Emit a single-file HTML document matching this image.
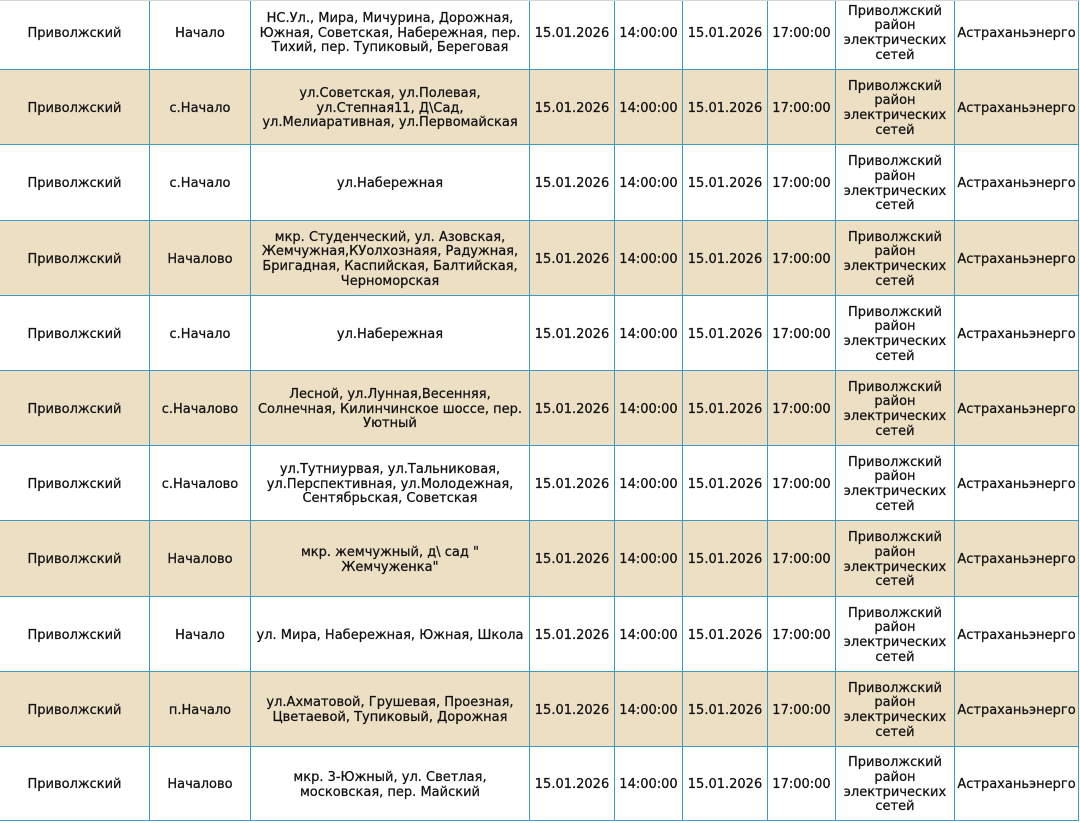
<!DOCTYPE html>
<html>
<head>
<meta charset="utf-8">
<style>
  html, body { margin:0; padding:0; background:#fff; }
  body { width:1080px; height:823px; overflow:hidden; position:relative;
         font-family:"DejaVu Sans","Liberation Sans",sans-serif; font-size:13px; color:#111; }
  .row { position:absolute; left:0; display:flex; box-sizing:border-box; border-bottom:1px solid #3d9cbf; }
  .row.b { background:#ecdfc4; }
  .c { box-sizing:border-box; display:flex; align-items:center; justify-content:center; text-align:center;
       line-height:14.7px; white-space:nowrap; border-left:1px solid #3d9cbf; height:100%; padding-top:4px;
       -webkit-text-stroke:0.25px #111; }
  .c1 { width:149px; border-left:none; }
  .c2 { width:101px; }
  .c3 { width:279px; }
  .c4 { width:85px; }
  .c5 { width:68px; }
  .c6 { width:85px; }
  .c7 { width:68px; }
  .c8 { width:119px; }
  .c9 { width:125px; border-right:1px solid #3d9cbf; }
  .topline { position:absolute; left:0; top:0; width:1080px; height:1px; background:#d4d4d4; }
</style>
</head>
<body>

<div class="row" style="top:-5px;height:75px;">
  <div class="c c1">Приволжский</div>
  <div class="c c2">Начало</div>
  <div class="c c3">НС.Ул., Мира, Мичурина, Дорожная,<br>Южная, Советская, Набережная, пер.<br>Тихий, пер. Тупиковый, Береговая</div>
  <div class="c c4">15.01.2026</div>
  <div class="c c5">14:00:00</div>
  <div class="c c6">15.01.2026</div>
  <div class="c c7">17:00:00</div>
  <div class="c c8">Приволжский<br>район<br>электрических<br>сетей</div>
  <div class="c c9">Астраханьэнерго</div>
</div>

<div class="row b" style="top:70px;height:75px;">
  <div class="c c1">Приволжский</div>
  <div class="c c2">с.Начало</div>
  <div class="c c3">ул.Советская, ул.Полевая,<br>ул.Степная11, Д\Сад,<br>ул.Мелиаративная, ул.Первомайская</div>
  <div class="c c4">15.01.2026</div>
  <div class="c c5">14:00:00</div>
  <div class="c c6">15.01.2026</div>
  <div class="c c7">17:00:00</div>
  <div class="c c8">Приволжский<br>район<br>электрических<br>сетей</div>
  <div class="c c9">Астраханьэнерго</div>
</div>

<div class="row" style="top:145px;height:76px;">
  <div class="c c1">Приволжский</div>
  <div class="c c2">с.Начало</div>
  <div class="c c3">ул.Набережная</div>
  <div class="c c4">15.01.2026</div>
  <div class="c c5">14:00:00</div>
  <div class="c c6">15.01.2026</div>
  <div class="c c7">17:00:00</div>
  <div class="c c8">Приволжский<br>район<br>электрических<br>сетей</div>
  <div class="c c9">Астраханьэнерго</div>
</div>

<div class="row b" style="top:221px;height:75px;">
  <div class="c c1">Приволжский</div>
  <div class="c c2">Началово</div>
  <div class="c c3">мкр. Студенческий, ул. Азовская,<br>Жемчужная,КУолхознаяя, Радужная,<br>Бригадная, Каспийская, Балтийская,<br>Черноморская</div>
  <div class="c c4">15.01.2026</div>
  <div class="c c5">14:00:00</div>
  <div class="c c6">15.01.2026</div>
  <div class="c c7">17:00:00</div>
  <div class="c c8">Приволжский<br>район<br>электрических<br>сетей</div>
  <div class="c c9">Астраханьэнерго</div>
</div>

<div class="row" style="top:296px;height:75px;">
  <div class="c c1">Приволжский</div>
  <div class="c c2">с.Начало</div>
  <div class="c c3">ул.Набережная</div>
  <div class="c c4">15.01.2026</div>
  <div class="c c5">14:00:00</div>
  <div class="c c6">15.01.2026</div>
  <div class="c c7">17:00:00</div>
  <div class="c c8">Приволжский<br>район<br>электрических<br>сетей</div>
  <div class="c c9">Астраханьэнерго</div>
</div>

<div class="row b" style="top:371px;height:75px;">
  <div class="c c1">Приволжский</div>
  <div class="c c2">с.Началово</div>
  <div class="c c3">Лесной, ул.Лунная,Весенняя,<br>Солнечная, Килинчинское шоссе, пер.<br>Уютный</div>
  <div class="c c4">15.01.2026</div>
  <div class="c c5">14:00:00</div>
  <div class="c c6">15.01.2026</div>
  <div class="c c7">17:00:00</div>
  <div class="c c8">Приволжский<br>район<br>электрических<br>сетей</div>
  <div class="c c9">Астраханьэнерго</div>
</div>

<div class="row" style="top:446px;height:75px;">
  <div class="c c1">Приволжский</div>
  <div class="c c2">с.Началово</div>
  <div class="c c3">ул.Тутниурвая, ул.Тальниковая,<br>ул.Перспективная, ул.Молодежная,<br>Сентябрьская, Советская</div>
  <div class="c c4">15.01.2026</div>
  <div class="c c5">14:00:00</div>
  <div class="c c6">15.01.2026</div>
  <div class="c c7">17:00:00</div>
  <div class="c c8">Приволжский<br>район<br>электрических<br>сетей</div>
  <div class="c c9">Астраханьэнерго</div>
</div>

<div class="row b" style="top:521px;height:76px;">
  <div class="c c1">Приволжский</div>
  <div class="c c2">Началово</div>
  <div class="c c3">мкр. жемчужный, д\ сад "<br>Жемчуженка"</div>
  <div class="c c4">15.01.2026</div>
  <div class="c c5">14:00:00</div>
  <div class="c c6">15.01.2026</div>
  <div class="c c7">17:00:00</div>
  <div class="c c8">Приволжский<br>район<br>электрических<br>сетей</div>
  <div class="c c9">Астраханьэнерго</div>
</div>

<div class="row" style="top:597px;height:75px;">
  <div class="c c1">Приволжский</div>
  <div class="c c2">Начало</div>
  <div class="c c3">ул. Мира, Набережная, Южная, Школа</div>
  <div class="c c4">15.01.2026</div>
  <div class="c c5">14:00:00</div>
  <div class="c c6">15.01.2026</div>
  <div class="c c7">17:00:00</div>
  <div class="c c8">Приволжский<br>район<br>электрических<br>сетей</div>
  <div class="c c9">Астраханьэнерго</div>
</div>

<div class="row b" style="top:672px;height:75px;">
  <div class="c c1">Приволжский</div>
  <div class="c c2">п.Начало</div>
  <div class="c c3">ул.Ахматовой, Грушевая, Проезная,<br>Цветаевой, Тупиковый, Дорожная</div>
  <div class="c c4">15.01.2026</div>
  <div class="c c5">14:00:00</div>
  <div class="c c6">15.01.2026</div>
  <div class="c c7">17:00:00</div>
  <div class="c c8">Приволжский<br>район<br>электрических<br>сетей</div>
  <div class="c c9">Астраханьэнерго</div>
</div>

<div class="row" style="top:747px;height:74px;">
  <div class="c c1">Приволжский</div>
  <div class="c c2">Началово</div>
  <div class="c c3">мкр. 3-Южный, ул. Светлая,<br>московская, пер. Майский</div>
  <div class="c c4">15.01.2026</div>
  <div class="c c5">14:00:00</div>
  <div class="c c6">15.01.2026</div>
  <div class="c c7">17:00:00</div>
  <div class="c c8">Приволжский<br>район<br>электрических<br>сетей</div>
  <div class="c c9">Астраханьэнерго</div>
</div>

<div class="topline"></div>

</body>
</html>
